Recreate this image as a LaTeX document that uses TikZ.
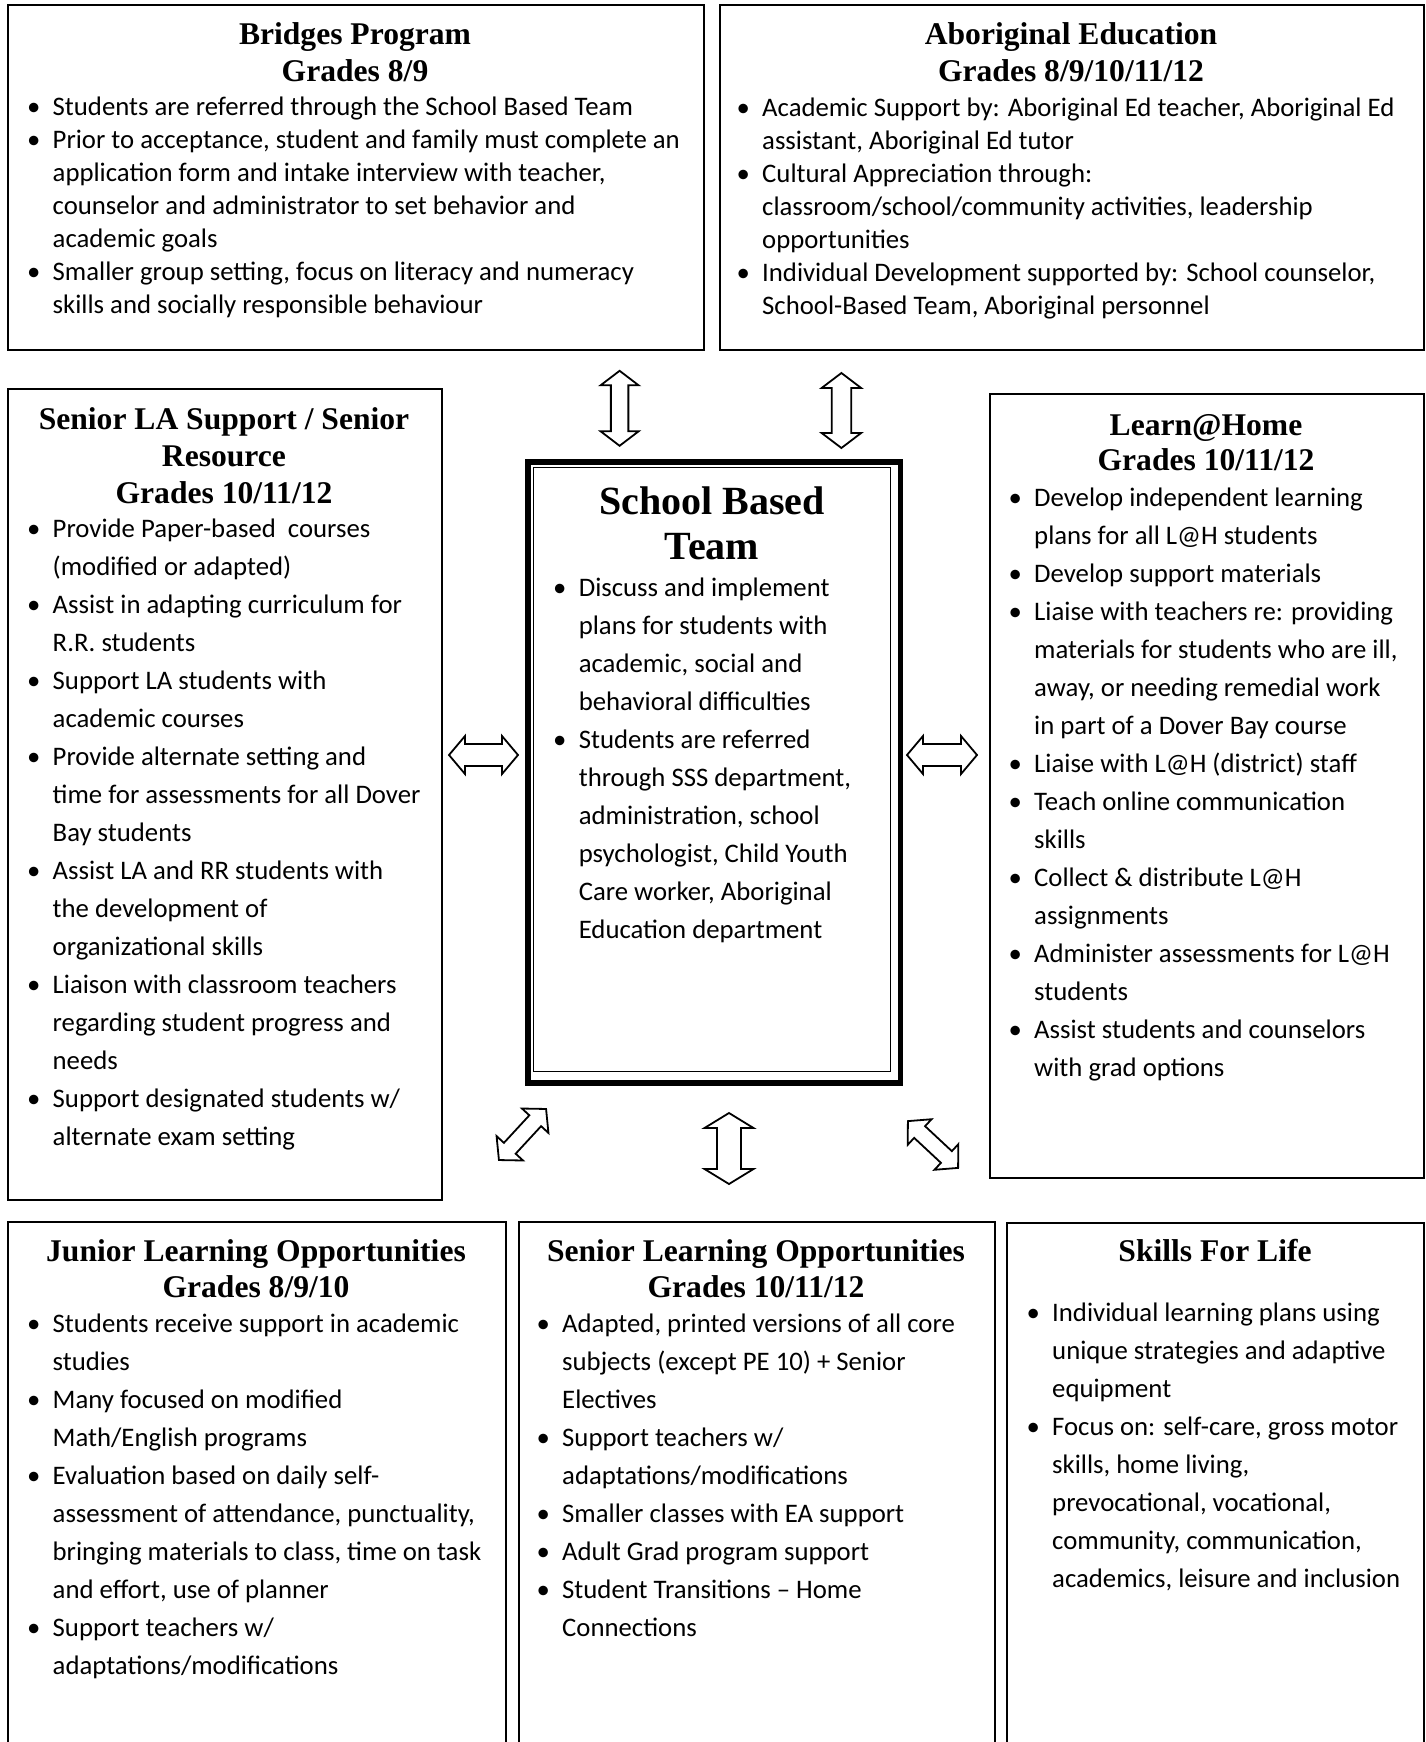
\documentclass[tikz,border=0pt]{standalone}
\usepackage{fontspec}
\setmainfont{Carlito}
\newfontfamily\headfont{Liberation Serif}
\newcommand{\bu}{\rule{0pt}{25pt}\makebox[18pt][c]{•}\hspace{10pt}}
\newcommand{\cn}{\rule{0pt}{25pt}\hspace*{28pt}}
\newcommand{\barr}[7]{% cx, cy, angle, L, H, S, h
  \begin{scope}[shift={(#1,#2)}, rotate=#3]
    \draw[barrow] (-#4/2,0) -- (-#4/2+#7,#5/2) -- (-#4/2+#7,#6/2) -- (#4/2-#7,#6/2) -- (#4/2-#7,#5/2) -- (#4/2,0)
      -- (#4/2-#7,-#5/2) -- (#4/2-#7,-#6/2) -- (-#4/2+#7,-#6/2) -- (-#4/2+#7,-#5/2) -- cycle;
  \end{scope}}
\begin{document}
\begin{tikzpicture}[x=1pt,y=-1pt,
  box/.style={draw, line width=2pt, inner sep=0pt, anchor=north west},
  head/.style={font=\headfont\bfseries\fontsize{31.6}{36.4}\selectfont, anchor=base, inner sep=0pt},
  bighead/.style={font=\headfont\bfseries\fontsize{40}{46}\selectfont, anchor=base, inner sep=0pt},
  body/.style={anchor=north west, inner sep=0pt, align=left, font=\fontsize{26.75}{33}\selectfont},
  bodyw/.style={anchor=north west, inner sep=0pt, align=left, font=\fontsize{26.75}{38}\selectfont},
  barrow/.style={draw, line width=1.8pt, fill=white, line join=miter}]
\useasboundingbox (0,0) rectangle (1426,1742);
\clip (0,0) rectangle (1426,1742);

% ---------- boxes ----------
\node[box, minimum width=696pt, minimum height=345pt] (bridges) at (7,4) {};
\node[box, minimum width=704pt, minimum height=345pt] (abor) at (719,4) {};
\node[box, minimum width=434pt, minimum height=811pt] (senla) at (7,388) {};
\node[box, minimum width=434pt, minimum height=784pt] (learn) at (989,393) {};
\node[box, minimum width=498pt, minimum height=560pt] (junior) at (7,1221) {};
\node[box, minimum width=476pt, minimum height=560pt] (senlo) at (518,1221) {};
\node[box, minimum width=417pt, minimum height=560pt] (skills) at (1006,1222) {};
% School Based Team double border
\node[draw, line width=5.4pt, inner sep=0pt, anchor=north west, minimum width=372.4pt, minimum height=621pt] (sbt) at (525.4,459.4) {};
\node[draw, line width=1.6pt, inner sep=0pt, anchor=north west, minimum width=357pt, minimum height=604pt] (sbtin) at (532.5,466.5) {};

% ---------- headings ----------
\node[head] (h1a) at (355,45) {Bridges Program};
\node[head] (h1b) at (355,81.7) {Grades 8/9};
\node[head] (h2a) at (1071,45) {Aboriginal Education};
\node[head] (h2b) at (1071,81.7) {Grades 8/9/10/11/12};
\node[head] (h3a) at (224,429) {Senior LA Support / Senior};
\node[head] (h3b) at (224,466) {Resource};
\node[head] (h3c) at (224,503) {Grades 10/11/12};
\node[head] (h4a) at (1206,435) {Learn@Home};
\node[head] (h4b) at (1206,470) {Grades 10/11/12};
\node[bighead] (h5a) at (712,514) {School Based};
\node[bighead] (h5b) at (712,559.5) {Team};
\node[head] (h6a) at (256,1261) {Junior Learning Opportunities};
\node[head] (h6b) at (256,1297) {Grades 8/9/10};
\node[head] (h7a) at (756,1261) {Senior Learning Opportunities};
\node[head] (h7b) at (756,1297) {Grades 10/11/12};
\node[head] (h8a) at (1215,1261) {Skills For Life};

% ---------- body texts ----------
\node[body] (t1) at (24.5,90) {%
\bu Students are referred through the School Based Team\\
\bu Prior to acceptance, student and family must complete an\\
\cn application form and intake interview with teacher,\\
\cn counselor and administrator to set behavior and\\
\cn academic goals\\
\bu Smaller group setting, focus on literacy and numeracy\\
\cn skills and socially responsible behaviour};

\node[body] (t2) at (734,91) {%
\bu Academic Support by: Aboriginal Ed teacher, Aboriginal Ed\\
\cn assistant, Aboriginal Ed tutor\\
\bu Cultural Appreciation through:\\
\cn classroom/school/community activities, leadership\\
\cn opportunities\\
\bu Individual Development supported by: School counselor,\\
\cn School-Based Team, Aboriginal personnel};

\node[bodyw] (t3) at (24.5,512.6) {%
\bu Provide Paper-based\ \ courses\\
\cn (modified or adapted)\\
\bu Assist in adapting curriculum for\\
\cn R.R. students\\
\bu Support LA students with\\
\cn academic courses\\
\bu Provide alternate setting and\\
\cn time for assessments for all Dover\\
\cn Bay students\\
\bu Assist LA and RR students with\\
\cn the development of\\
\cn organizational skills\\
\bu Liaison with classroom teachers\\
\cn regarding student progress and\\
\cn needs\\
\bu Support designated students w/\\
\cn alternate exam setting};

\node[bodyw] (t4) at (550.6,571.7) {%
\bu Discuss and implement\\
\cn plans for students with\\
\cn academic, social and\\
\cn behavioral difficulties\\
\bu Students are referred\\
\cn through SSS department,\\
\cn administration, school\\
\cn psychologist, Child Youth\\
\cn Care worker, Aboriginal\\
\cn Education department};

\node[bodyw] (t5) at (1006,481.5) {%
\bu Develop independent learning\\
\cn plans for all L@H students\\
\bu Develop support materials\\
\bu Liaise with teachers re: providing\\
\cn materials for students who are ill,\\
\cn away, or needing remedial work\\
\cn in part of a Dover Bay course\\
\bu Liaise with L@H (district) staff\\
\bu Teach online communication\\
\cn skills\\
\bu Collect \& distribute L@H\\
\cn assignments\\
\bu Administer assessments for L@H\\
\cn students\\
\bu Assist students and counselors\\
\cn with grad options};

\node[bodyw] (t6) at (24.5,1307) {%
\bu Students receive support in academic\\
\cn studies\\
\bu Many focused on modified\\
\cn Math/English programs\\
\bu Evaluation based on daily self-\\
\cn assessment of attendance, punctuality,\\
\cn bringing materials to class, time on task\\
\cn and effort, use of planner\\
\bu Support teachers w/\\
\cn adaptations/modifications};

\node[bodyw] (t7) at (534,1307) {%
\bu Adapted, printed versions of all core\\
\cn subjects (except PE 10) + Senior\\
\cn Electives\\
\bu Support teachers w/\\
\cn adaptations/modifications\\
\bu Smaller classes with EA support\\
\bu Adult Grad program support\\
\bu Student Transitions – Home\\
\cn Connections};

\node[bodyw] (t8) at (1024,1296) {%
\bu Individual learning plans using\\
\cn unique strategies and adaptive\\
\cn equipment\\
\bu Focus on: self-care, gross motor\\
\cn skills, home living,\\
\cn prevocational, vocational,\\
\cn community, communication,\\
\cn academics, leisure and inclusion};

% ---------- block arrows ----------
\barr{619.6}{408.3}{90}{75}{38}{17.5}{14.5}
\barr{841.4}{410.5}{90}{75}{39.5}{19.5}{15}
\barr{483.5}{755}{0}{69}{38}{22}{16}
\barr{942}{755}{0}{70}{38}{22}{16}
\barr{729}{1148.5}{90}{71}{49}{24}{15}
\barr{522.5}{1134.5}{47.3}{69.5}{36}{16}{16}
\barr{933}{1144.5}{-43}{68.6}{35}{16}{16}
\end{tikzpicture}
\end{document}
